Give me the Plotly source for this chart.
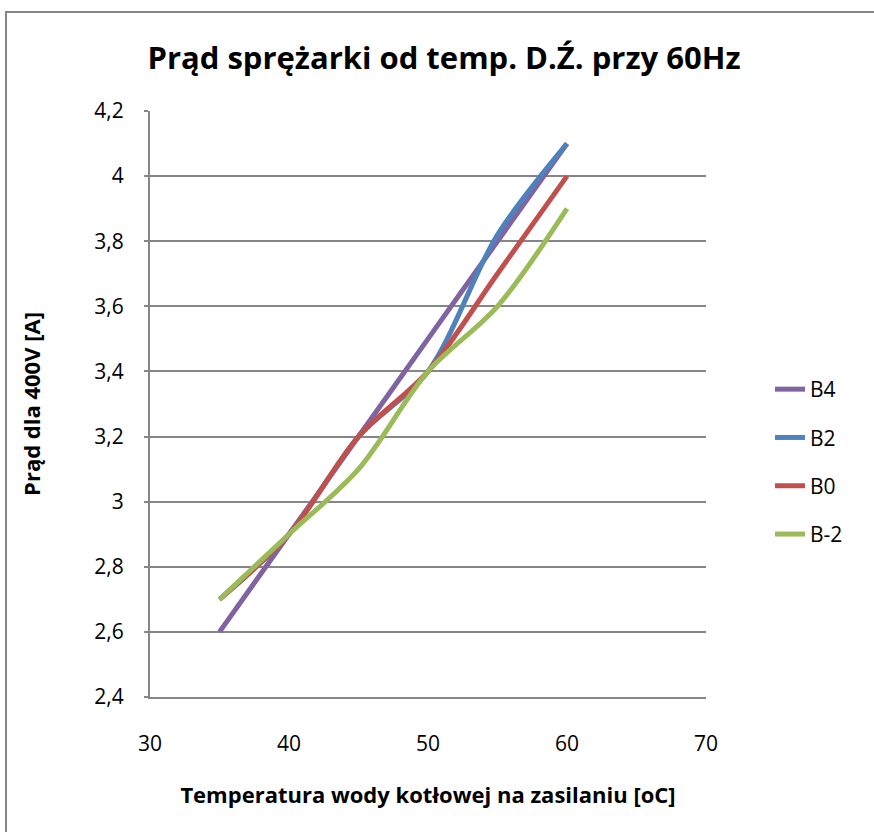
import plotly.graph_objects as go

# Temperatura wody kotłowej na zasilaniu [°C]
temps = [35, 40, 45, 50, 55, 60]

# Prąd sprężarki [A] dla 400 V, poszczególne temperatury dolnego źródła
b4 = [2.6, 2.9, 3.2, 3.5, 3.8, 4.1]
b2 = [2.7, 2.9, 3.2, 3.4, 3.82, 4.1]
b0 = [2.7, 2.9, 3.2, 3.4, 3.7, 4.0]
bm2 = [2.7, 2.9, 3.1, 3.4, 3.6, 3.9]

series = [
    ("B4", b4, "#8064A2"),
    ("B2", b2, "#4F81BD"),
    ("B0", b0, "#C0504D"),
    ("B-2", bm2, "#9BBB59"),
]

y_ticks = [2.4, 2.6, 2.8, 3.0, 3.2, 3.4, 3.6, 3.8, 4.0, 4.2]
y_tick_text = ["2,4", "2,6", "2,8", "3", "3,2", "3,4", "3,6", "3,8", "4", "4,2"]
x_ticks = [30, 40, 50, 60, 70]

FONT = "Open Sans"

fig = go.Figure()
for name, vals, color in series:
    fig.add_trace(go.Scatter(
        x=temps, y=vals, name=name, mode="lines",
        legendgroup=name,
        line=dict(color=color, width=5, shape="spline", smoothing=0.9),
    ))

# plot area in pixels: x 150..706, y 111..697
W, H = 874, 832
L, R, T, B = 150, 706, 111, 697

def px_x(p):
    return (p - L) / (R - L)

def px_y(p):
    return (B - p) / (B - T)

fig.update_layout(
    width=W, height=H,
    margin=dict(l=L, r=W - R, t=T, b=H - B),
    paper_bgcolor="white", plot_bgcolor="white",
    font=dict(family=FONT, color="black"),
    title=dict(
        text="<b>Prąd sprężarki od temp. D.Ź. przy 60Hz</b>",
        font=dict(family=FONT, size=31, color="black"),
        x=444 / W, xref="container", xanchor="center",
        y=1 - 58 / H, yanchor="middle",
    ),
    xaxis=dict(
        range=[30, 70], tickvals=x_ticks, ticks="",
        showgrid=False, zeroline=False,
        showline=True, linecolor="#868686", linewidth=2,
        tickfont=dict(size=21), ticklabelstandoff=27,
        title=dict(text="<b>Temperatura wody kotłowej na zasilaniu [oC]</b>",
                   font=dict(size=22), standoff=31),
    ),
    yaxis=dict(
        range=[2.4, 4.2], tickvals=y_ticks, ticktext=y_tick_text,
        ticks="outside", ticklen=4, tickcolor="#868686", tickwidth=2,
        showgrid=True, gridcolor="#868686", gridwidth=2,
        zeroline=False,
        showline=True, linecolor="#868686", linewidth=2,
        tickfont=dict(size=21), ticklabelstandoff=16,
        title=dict(text="<b>Prąd dla 400V [A]</b>", font=dict(size=22), standoff=48),
    ),
    legend=dict(
        x=px_x(770), y=px_y(369), xanchor="left", yanchor="top",
        font=dict(size=21), tracegroupgap=18,
        bgcolor="rgba(0,0,0,0)",
    ),
    showlegend=True,
)

# outer chart border
fig.add_shape(
    type="rect", xref="paper", yref="paper",
    x0=px_x(6), x1=px_x(W + 20), y0=px_y(12), y1=px_y(H + 20),
    line=dict(color="#868686", width=2), fillcolor="rgba(0,0,0,0)", layer="below",
)

fig.write_html("out.html")
